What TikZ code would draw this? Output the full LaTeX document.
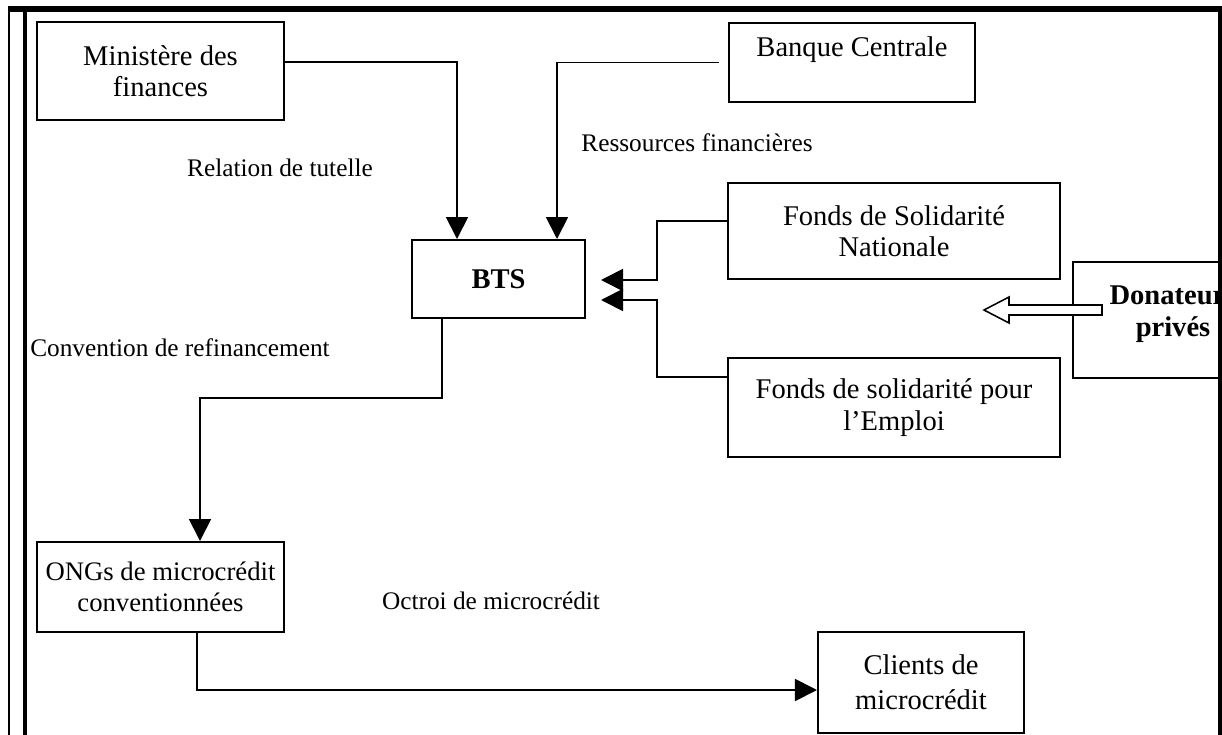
\documentclass[tikz,border=0pt]{standalone}
\usepackage{fontspec}
\setmainfont{Liberation Serif}
\usetikzlibrary{positioning,calc,arrows.meta}

\begin{document}
\begin{tikzpicture}[x=0.025cm,y=-0.025cm,
    box/.style={draw,line width=1.4pt,align=center,inner sep=0pt,font=\fontsize{20.3}{22.3}\selectfont},
    lbl/.style={font=\fontsize{18}{22}\selectfont},
    conn/.style={line width=1.3pt,-{Triangle[length=0.55cm,width=0.55cm]}}]
    \useasboundingbox (0,0) rectangle (1222,735);
    \clip (0,0) rectangle (1222,735);

    % Frame
    \draw[line width=0.15cm] (8,9) -- (1222,9);
    \draw[line width=0.07cm] (9,6) -- (9,735);
    \draw[line width=0.1cm] (25,6) -- (25,735);
    \draw[line width=0.1cm] (1220,6) -- (1220,735);

    % Boxes
    \node[box,minimum width=6.175cm,minimum height=2.45cm] (min) at (160.5,71) {Ministère des\\finances};
    \node[box,minimum width=6.15cm,minimum height=1.975cm] (bank) at (852,62.5) {Banque Centrale\\\mbox{}};
    \node[box,minimum width=4.325cm,minimum height=1.95cm,font=\fontsize{20.3}{22.3}\selectfont\bfseries] (bts) at (498.5,279) {BTS};
    \node[box,minimum width=8.3cm,minimum height=2.4cm] (fsn) at (894,231) {Fonds de Solidarité\\Nationale};
    \node[box,minimum width=8.3cm,minimum height=2.475cm] (fse) at (894,407.5) {Fonds de solidarité pour\\l’Emploi};
    \node[box,minimum width=5cm,minimum height=2.9cm,font=\fontsize{20.3}{22.3}\selectfont\bfseries] (don) at (1173,320) {Donateurs\\privés\\[-9.5pt]\mbox{}};
    \node[box,minimum width=6.175cm,minimum height=2.25cm,font=\fontsize{19}{22.3}\selectfont] (ongs) at (160.5,587) {ONGs de microcrédit\\conventionnées};
    \node[box,minimum width=5.15cm,minimum height=2.525cm,font=\fontsize{20.3}{25}\selectfont] (cli) at (921,682.5) {Clients de\\microcrédit};

    % Labels
    \node[lbl] (tut) at (280,168) {Relation de tutelle};
    \node[lbl] (res) at (697,143) {Ressources financières};
    \node[lbl] (conv) at (180,348) {Convention de refinancement};
    \node[lbl] (oct) at (491,601) {Octroi de microcrédit};

    % Connectors
    \draw[conn] ($(min.east)+(0,-9)$) -| ($(bts.north)+(-41.5,0)$);
    \draw[conn] ($(bank.west)+(-9,0)$) -| ($(bts.north)+(58.5,0)$);
    \draw[conn] ($(fsn.west)+(0,-10)$) -| ($(bts.east)+(71,1)$) -- ($(bts.east)+(15,1)$);
    \draw[conn] ($(fse.west)+(0,-30.5)$) -| ($(bts.east)+(71,21)$) -- ($(bts.east)+(15,21)$);
    \draw[conn] ($(bts.south)+(-56.5,0)$) -- ++(0,79) -| ($(ongs.north)+(39.5,0)$);
    \draw[conn] ($(ongs.south)+(36.5,0)$) |- ($(cli.west)+(0,7.5)$);

    % Hollow arrow (donateurs)
    \draw[line width=1.1pt,fill=white] ($(don.west)+(30,-15)$) -- ++(-93,0) -- ++(0,-8) -- ++(-25,13) -- ++(25,13) -- ++(0,-8) -- ++(93,0) -- cycle;
\end{tikzpicture}
\end{document}
